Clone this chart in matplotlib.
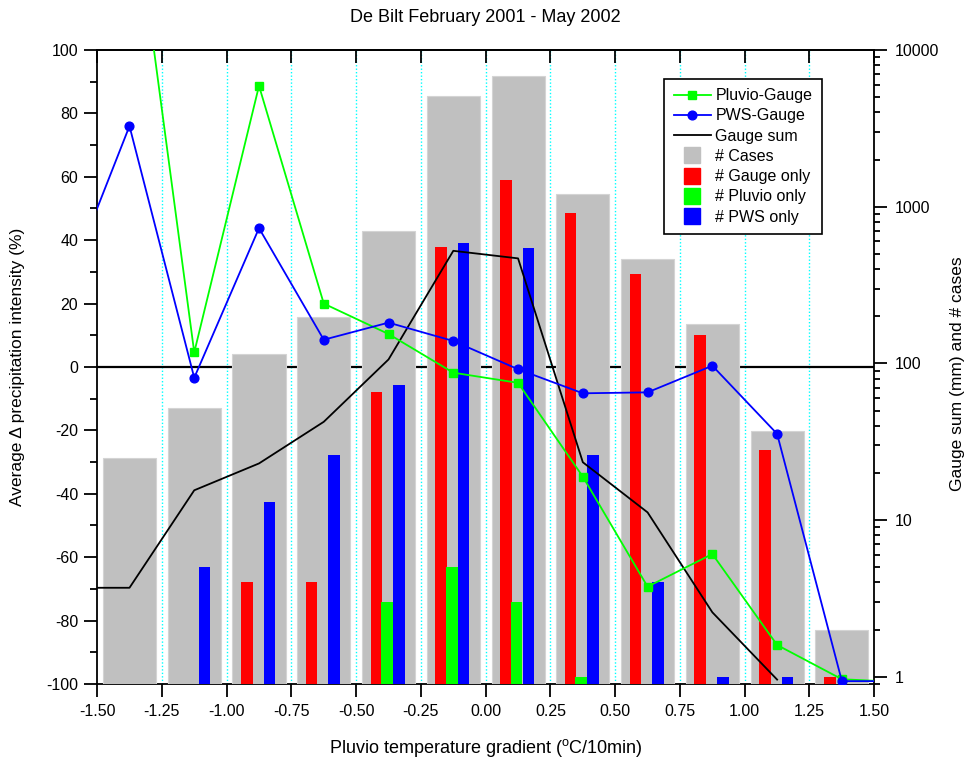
import numpy as np
import matplotlib
matplotlib.use('Agg')
import matplotlib.pyplot as plt
from matplotlib.lines import Line2D
from matplotlib import ticker, transforms

plt.rcParams['font.family'] = ['Liberation Sans', 'DejaVu Sans']
plt.rcParams['axes.unicode_minus'] = False
plt.rcParams['mathtext.fontset'] = 'custom'
plt.rcParams['mathtext.rm'] = 'Liberation Sans'
plt.rcParams['mathtext.default'] = 'regular'

# ---------------- data ----------------
title = 'De Bilt February 2001 - May 2002'
bin_centers = [-1.375, -1.125, -0.875, -0.625, -0.375, -0.125,
               0.125, 0.375, 0.625, 0.875, 1.125, 1.375]
n_cases = [25, 52, 115, 197, 697, 5070, 6780, 1203, 463, 178, 36.8, 2.0]
n_gauge_only = [0, 0, 4, 4, 66, 555, 1485, 914, 371, 152, 28, 1]
n_pluvio_only = [0, 0, 0, 0, 3, 5, 3, 1, 0, 0, 0, 0]
n_pws_only = [0, 5, 13, 26, 73, 583, 542, 26, 4, 1, 1, 0]

# line series (first/last points lie just outside the visible range)
line_x = [-1.625, -1.375, -1.125, -0.875, -0.625, -0.375, -0.125,
          0.125, 0.375, 0.625, 0.875, 1.125, 1.375, 1.625]
pluvio_gauge = [np.nan, 158, 4.6, 88.7, 20, 10.4, -1.8, -5.0,
                -34.6, -69.3, -59.0, -87.7, -98.5, -99.5]
pws_gauge = [24, 76, -3.4, 43.8, 8.6, 14, 8.2, -0.7,
             -8.3, -8.0, 0.4, -21.1, -99.1, -99.1]
gauge_sum = [3.7, 3.7, 15.5, 23.0, 42.4, 106, 523, 468,
             23.4, 11.2, 2.58, 0.96, np.nan, np.nan]

x_ticks = [-1.5, -1.25, -1.0, -0.75, -0.5, -0.25, 0.0, 0.25, 0.5, 0.75, 1.0, 1.25, 1.5]
right_ticks = [1, 10, 100, 1000, 10000]

# ---------------- styling ----------------
GRAY = '#C0C0C0'
RED = '#FF0000'
GREEN = '#00FF00'
BLUE = '#0000FF'
BAR_FLOOR = 0.1
W_CASE = 0.205
W_SMALL = 0.045
OFF_RED, OFF_GREEN, OFF_BLUE = -0.047, -0.006, 0.04
FS = 11.5

fig = plt.figure(figsize=(9.7, 7.61), dpi=100)
ax = fig.add_axes([0.1001, 0.1012, 0.8012, 0.8331])
ax2 = ax.twinx()
ax.set_zorder(ax2.get_zorder() + 1)
ax.patch.set_visible(False)

ax.set_xlim(-1.5, 1.5)
ax.set_ylim(-100, 100)
ax2.set_yscale('log')
ax2.set_ylim(0.9, 10000)

# background grid + zero line (under the bars)
for gx in x_ticks[1:-1]:
    ax2.axvline(gx, color='#00FFFF', lw=1.0, ls=(0, (1, 1.5)), zorder=0.5)
zero_tr = transforms.blended_transform_factory(ax2.transAxes, ax.transData)
ax2.plot([0, 1], [0, 0], transform=zero_tr, color='black', lw=1.6, zorder=0.6,
         scalex=False, scaley=False)

def draw_bars(axis, xs, vals, offset, width, color, z, edge='none'):
    xs = np.asarray(xs, float)
    vals = np.asarray(vals, float)
    m = vals > 0
    axis.bar(xs[m] + offset, vals[m] - BAR_FLOOR, bottom=BAR_FLOOR, width=width,
             color=color, edgecolor=edge, linewidth=0.8, zorder=z)

draw_bars(ax2, bin_centers, n_cases, 0.0, W_CASE, GRAY, 1, edge='#D4D4D4')
draw_bars(ax2, bin_centers, n_gauge_only, OFF_RED, W_SMALL, RED, 1.1)
draw_bars(ax2, bin_centers, n_pluvio_only, OFF_GREEN, W_SMALL, GREEN, 1.1)
draw_bars(ax2, bin_centers, n_pws_only, OFF_BLUE, W_SMALL, BLUE, 1.1)

ax2.plot(line_x, gauge_sum, color='black', lw=1.3, zorder=3)

ax.plot(line_x, pluvio_gauge, color=GREEN, lw=1.3, marker='s', ms=6, zorder=3)
ax.plot(line_x, pws_gauge, color=BLUE, lw=1.3, marker='o', ms=6.3, zorder=4)

# spines
for s in ['left', 'right', 'top']:
    ax.spines[s].set_linewidth(1.3)
    ax2.spines[s].set_visible(False)
ax.spines['bottom'].set_visible(False)
ax2.spines['bottom'].set_linewidth(1.3)
ax2.spines['bottom'].set_zorder(0.7)

# x ticks
ax.set_xticks(x_ticks)
ax.xaxis.set_major_formatter(ticker.FormatStrFormatter('%.2f'))
ax.tick_params(axis='x', direction='out', length=9.5, width=1.3, labelsize=FS, pad=5, top=False)
sec = ax.secondary_xaxis('top')
sec.set_xticks(x_ticks)
sec.xaxis.set_major_formatter(ticker.NullFormatter())
sec.tick_params(direction='in', length=9.5, width=1.3)
sec.spines['top'].set_linewidth(1.3)

# left y ticks
ax.yaxis.set_major_locator(ticker.MultipleLocator(20))
ax.yaxis.set_minor_locator(ticker.MultipleLocator(10))
ax.tick_params(axis='y', which='major', direction='out', length=9.5, width=1.3, labelsize=FS, pad=4, right=False)
ax.tick_params(axis='y', which='minor', direction='out', length=5, width=1.3, right=False)

# right y ticks
ax2.yaxis.set_major_locator(ticker.FixedLocator(right_ticks))
ax2.yaxis.set_major_formatter(ticker.FuncFormatter(lambda v, p: '%g' % v))
ax2.yaxis.set_minor_locator(ticker.LogLocator(base=10, subs=range(2, 10), numticks=30))
ax2.yaxis.set_minor_formatter(ticker.NullFormatter())
ax2.tick_params(axis='y', which='major', direction='out', length=9.5, width=1.3, labelsize=FS, pad=5)
ax2.tick_params(axis='y', which='minor', direction='out', length=4.5, width=1.3)

# labels
ax.set_ylabel('Average \u0394 precipitation intensity (%)', fontsize=12.5)
ax.yaxis.set_label_coords(-0.102, 0.5)
ax.yaxis.label.set_va('center')
ax2.set_ylabel('Gauge sum (mm) and # cases', fontsize=12.5)
ax2.yaxis.set_label_coords(1.1077, 0.49)
ax2.yaxis.label.set_va('center')
ax.set_xlabel(r'Pluvio temperature gradient ($^{\rm o}$C/10min)', fontsize=13)
ax.xaxis.set_label_coords(0.5, -0.101)
ax.xaxis.label.set_va('center')
fig.text(485.7 / 970, 1 - 22 / 761, title, ha='center', va='baseline', fontsize=13)

# legend
handles = [
    Line2D([], [], color=GREEN, lw=1.3, marker='s', ms=6),
    Line2D([], [], color=BLUE, lw=1.3, marker='o', ms=6.3),
    Line2D([], [], color='black', lw=1.3),
    Line2D([], [], ls='none', marker='s', ms=11, color=GRAY),
    Line2D([], [], ls='none', marker='s', ms=11, color=RED),
    Line2D([], [], ls='none', marker='s', ms=11, color=GREEN),
    Line2D([], [], ls='none', marker='s', ms=11, color=BLUE),
]
labels = ['Pluvio-Gauge', 'PWS-Gauge', 'Gauge sum', '# Cases',
          '# Gauge only', '# Pluvio only', '# PWS only']
leg = ax.legend(handles, labels, loc='upper left', bbox_to_anchor=(0.7298, 0.955),
                frameon=True, fancybox=False, edgecolor='black', framealpha=1,
                fontsize=FS, handlelength=2.3, handletextpad=0.3, labelspacing=0.33,
                borderpad=0.6, borderaxespad=0)
leg.get_frame().set_linewidth(1.2)

fig.savefig('out.png', dpi=100)
